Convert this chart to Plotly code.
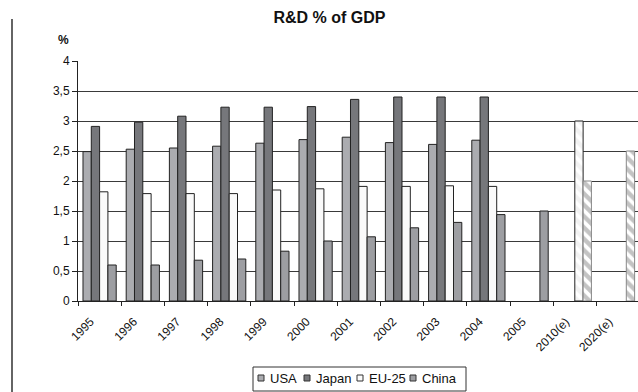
import plotly.graph_objects as go

# R&D expenditure as % of GDP, by year (estimates marked "(e)")
years = ["1995", "1996", "1997", "1998", "1999", "2000", "2001", "2002",
         "2003", "2004", "2005", "2010(e)", "2020(e)"]
usa = [2.49, 2.53, 2.55, 2.58, 2.63, 2.69, 2.73, 2.64, 2.61, 2.68, None, None, None]
japan = [2.91, 2.98, 3.08, 3.23, 3.23, 3.24, 3.36, 3.40, 3.40, 3.40, None, None, None]
eu25 = [1.82, 1.79, 1.79, 1.79, 1.85, 1.87, 1.91, 1.91, 1.92, 1.91, None, 3.00, None]
china = [0.60, 0.60, 0.68, 0.70, 0.83, 1.00, 1.07, 1.22, 1.31, 1.44, 1.50, 2.00, 2.50]

series = [("USA", usa), ("Japan", japan), ("EU-25", eu25), ("China", china)]

FILL = {"USA": "#abacb0", "Japan": "#76777b", "EU-25": "#fafafa", "China": "#9d9ea2"}
HATCH = {"USA": "#8f8f8f", "Japan": "#8f8f8f", "EU-25": "#e6e6e6", "China": "#888888"}
EDGE = "#222222"
FONT = "Liberation Sans, Arial, sans-serif"

estimate = [c.endswith("(e)") for c in years]

fig = go.Figure()
for name, vals in series:
    # estimates are drawn as white bars with diagonal stripes
    shapes = ["\\" if e else "" for e in estimate]
    edges = [(HATCH[name] if name == "China" else EDGE) if e else EDGE for e in estimate]
    fig.add_trace(go.Bar(
        name=name, uid=name, x=years, y=vals,
        marker=dict(
            color=FILL[name],
            line=dict(color=edges, width=1),
            pattern=dict(shape=shapes, fgcolor=HATCH[name], bgcolor="#ffffff",
                         size=8, solidity=0.55),
        ),
        showlegend=False,
    ))

# plot-area geometry in pixels, used to place the hand-drawn legend and frame
PL, PT, PW, PH = 78, 61, 560, 240


def px(x):
    return (x - PL) / PW


def py(y):
    return (PT + PH - y) / PH


shapes = []
annotations = []

# page frame line on the left
shapes.append(dict(type="line", xref="paper", yref="paper",
                   x0=px(12), x1=px(12), y0=py(19), y1=py(395),
                   line=dict(color="#111", width=1.3)))

# legend box with small square swatches
shapes.append(dict(type="rect", xref="paper", yref="paper",
                   x0=px(253), x1=px(466), y0=py(367), y1=py(391),
                   line=dict(color="#333", width=1), fillcolor="white"))
legend_x = [258, 304, 357, 410]
for (name, _), sx in zip(series, legend_x):
    shapes.append(dict(type="rect", xref="paper", yref="paper",
                       x0=px(sx), x1=px(sx + 6), y0=py(375), y1=py(381),
                       line=dict(color="#333", width=1), fillcolor=FILL[name]))
    annotations.append(dict(text=name, xref="paper", yref="paper",
                            x=px(sx + 10), y=py(378.5), xanchor="left", yanchor="middle",
                            showarrow=False, font=dict(family=FONT, size=13, color="#111")))

# unit label above the value axis
annotations.append(dict(text="<b>%</b>", xref="paper", yref="paper",
                        x=px(63.5), y=py(40), xanchor="center", yanchor="middle",
                        showarrow=False, font=dict(family=FONT, size=12, color="#111")))

fig.update_layout(
    width=638, height=392,
    margin=dict(l=PL, r=0, t=PT, b=392 - PT - PH),
    paper_bgcolor="white", plot_bgcolor="white",
    barmode="group", bargap=0.231, bargroupgap=0,
    separators=",.",
    showlegend=False,
    font=dict(family=FONT, size=12, color="#111"),
    title=dict(text="<b>R&D % of GDP</b>", x=329.5 / 638, xref="container",
               xanchor="center", y=1 - 17.5 / 392, yanchor="middle",
               font=dict(family=FONT, size=16, color="#111")),
    shapes=shapes,
    annotations=annotations,
)
fig.update_xaxes(
    type="category", range=[-0.5, -0.5 + PW / 43.2],
    tickson="boundaries", ticks="outside", ticklen=4, tickcolor="#222",
    showline=True, linecolor="#222", linewidth=1,
    tickangle=-45, showgrid=False,
    ticklabelstandoff=8, ticklabelshift=-9,
    tickfont=dict(family=FONT, size=12, color="#111"),
)
fig.update_yaxes(
    range=[0, 4], tick0=0, dtick=0.5,
    showgrid=True, gridcolor="#3a3a3a", gridwidth=1, zeroline=False,
    showline=True, linecolor="#222", linewidth=1,
    ticks="outside", ticklen=5, tickcolor="#222",
    tickfont=dict(family=FONT, size=12, color="#111"),
)

fig.write_html("out.html")
